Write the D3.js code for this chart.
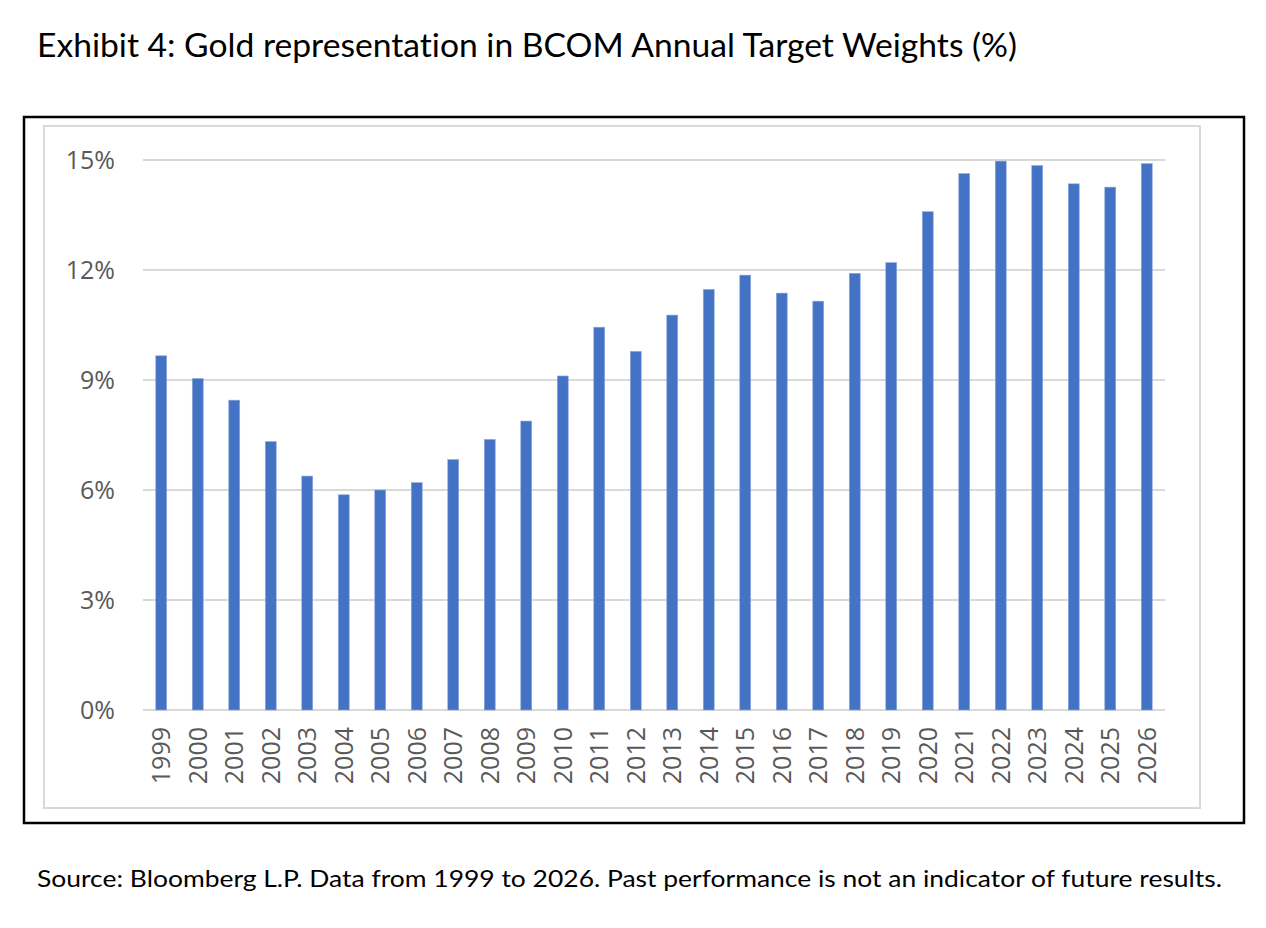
<!DOCTYPE html>
<html>
<head>
<meta charset="utf-8">
<script src="https://cdn.jsdelivr.net/npm/d3@7"></script>
<style>
  body { margin: 0; background: #fff; }
  svg { display: block; }
  text { font-variant-ligatures: none; font-feature-settings: "liga" 0; }
</style>
</head>
<body>
<svg id="chart" width="1266" height="928"></svg>
<script>
// gold share of the BCOM target weights, in %
const years = ["1999", "2000", "2001", "2002", "2003", "2004", "2005", "2006", "2007", "2008",
  "2009", "2010", "2011", "2012", "2013", "2014", "2015", "2016", "2017", "2018",
  "2019", "2020", "2021", "2022", "2023", "2024", "2025", "2026"];
const goldWeights = [9.66, 9.04, 8.45, 7.32, 6.38, 5.87, 6.0, 6.2, 6.83, 7.38,
  7.88, 9.11, 10.44, 9.78, 10.77, 11.47, 11.86, 11.37, 11.15, 11.91,
  12.2, 13.59, 14.63, 14.97, 14.85, 14.35, 14.26, 14.9];
const yTicks = [0, 3, 6, 9, 12, 15];

const titleText = "Exhibit 4: Gold representation in BCOM Annual Target Weights (%)";
const sourceText = "Source: Bloomberg L.P. Data from 1999 to 2026. Past performance is not an indicator of future results.";

const svg = d3.select("#chart");

const plot = { left: 143, right: 1165, top: 160, bottom: 710 };

const x = d3.scaleBand()
  .domain(years)
  .range([plot.left, plot.right])
  .paddingInner(0.7)
  .paddingOuter(0.35);

const y = d3.scaleLinear()
  .domain([0, 15])
  .range([plot.bottom, plot.top]);

// title + source note
svg.append("text")
  .attr("x", 37).attr("y", 57)
  .attr("font-family", "Lato, 'Noto Sans', sans-serif")
  .attr("font-size", 32)
  .attr("fill", "#000")
  .attr("textLength", 980)
  .attr("lengthAdjust", "spacingAndGlyphs")
  .text(titleText);

svg.append("text")
  .attr("x", 37).attr("y", 887)
  .attr("font-family", "Lato, 'Noto Sans', sans-serif")
  .attr("font-size", 24)
  .attr("fill", "#000")
  .attr("textLength", 1185)
  .attr("lengthAdjust", "spacingAndGlyphs")
  .text(sourceText);

// frames
svg.append("rect")
  .attr("x", 24).attr("y", 117)
  .attr("width", 1220).attr("height", 706)
  .attr("fill", "none")
  .attr("stroke", "#000")
  .attr("stroke-width", 2.5);

svg.append("rect")
  .attr("x", 44).attr("y", 126)
  .attr("width", 1156).attr("height", 682)
  .attr("fill", "#fff")
  .attr("stroke", "#d9d9d9")
  .attr("stroke-width", 2);

// gridlines
svg.append("g")
  .selectAll("line")
  .data(yTicks)
  .enter().append("line")
  .attr("x1", plot.left)
  .attr("x2", plot.right)
  .attr("y1", d => y(d))
  .attr("y2", d => y(d))
  .attr("stroke", "#d9d9d9")
  .attr("stroke-width", 2);

// bars
svg.append("g")
  .selectAll("rect")
  .data(goldWeights)
  .enter().append("rect")
  .attr("x", (d, i) => x(years[i]))
  .attr("y", d => y(d))
  .attr("width", x.bandwidth())
  .attr("height", d => y(0) - y(d))
  .attr("fill", "#4472c4")
  .attr("stroke", "#8eaadb")
  .attr("stroke-width", 0.6);

// y axis labels
const yAxis = svg.append("g")
  .attr("transform", `translate(${plot.left},0)`)
  .call(d3.axisLeft(y).tickValues(yTicks).tickFormat(d => d + "%").tickSize(0).tickPadding(28));
yAxis.select(".domain").remove();
yAxis.selectAll("text")
  .attr("font-family", "'Open Sans', sans-serif")
  .attr("font-size", 25)
  .attr("fill", "#595959");

// x axis labels, rotated
const xAxis = svg.append("g")
  .attr("transform", `translate(0,${plot.bottom})`)
  .call(d3.axisBottom(x).tickSize(0).tickPadding(0));
xAxis.select(".domain").remove();
xAxis.selectAll("text")
  .attr("font-family", "'Open Sans', sans-serif")
  .attr("font-size", 25)
  .attr("fill", "#595959")
  .attr("text-anchor", "end")
  .attr("transform", "rotate(-90)")
  .attr("x", -17)
  .attr("y", 0)
  .attr("dy", "0.36em");
</script>
</body>
</html>
